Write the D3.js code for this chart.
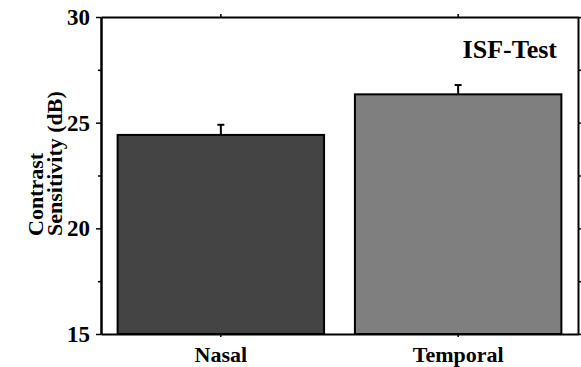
<!DOCTYPE html>
<html><head><meta charset="utf-8">
<script src="https://cdn.jsdelivr.net/npm/d3@7"></script>
<style>body{margin:0;background:#fff}svg{display:block}text{font-family:"Liberation Serif","Times New Roman",serif;font-weight:bold;fill:#000}</style>
</head><body>
<script>
const categories = ["Nasal", "Temporal"];
const means = [24.42, 26.34];
const errors = [0.48, 0.44];
const colors = ["#444444", "#7f7f7f"];
const majorTicks = [15, 20, 25, 30];
const minorTicks = [17.5, 22.5, 27.5];
const yTitle = ["Contrast", "Sensitivity (dB)"];
const panelLabel = "ISF-Test";

const W = 581, H = 367;
const m = {left: 101, right: 3, top: 17, bottom: 33};
const svg = d3.select("body").append("svg").attr("width", W).attr("height", H);

const x = d3.scaleBand().domain(categories).range([m.left, W - m.right]).paddingInner(0.13).paddingOuter(0.07);
const y = d3.scaleLinear().domain([15, 30]).range([H - m.bottom, m.top]);

// bars
svg.selectAll("rect.bar").data(categories).join("rect").attr("class", "bar")
  .attr("x", d => x(d)).attr("width", x.bandwidth())
  .attr("y", (d, i) => y(means[i])).attr("height", (d, i) => y(15) - y(means[i]))
  .attr("fill", (d, i) => colors[i]).attr("stroke", "#000").attr("stroke-width", 2);

// error bars
const eb = svg.selectAll("g.err").data(categories).join("g").attr("class", "err")
  .attr("stroke", "#000").attr("stroke-width", 2);
eb.append("line").attr("x1", d => x(d) + x.bandwidth() / 2).attr("x2", d => x(d) + x.bandwidth() / 2)
  .attr("y1", (d, i) => y(means[i])).attr("y2", (d, i) => y(means[i] + errors[i]));
eb.append("line").attr("x1", d => x(d) + x.bandwidth() / 2 - 3.5).attr("x2", d => x(d) + x.bandwidth() / 2 + 3.5)
  .attr("y1", (d, i) => y(means[i] + errors[i])).attr("y2", (d, i) => y(means[i] + errors[i]));

// axes
function styleAxis(g) {
  g.selectAll("path.domain").attr("stroke", "#000").attr("stroke-width", 2);
  g.selectAll(".tick line").attr("stroke", "#000").attr("stroke-width", 1.5);
}
function styleText(g, size) {
  g.selectAll("text").attr("font-size", size).style("font-family", '"Liberation Serif",serif')
    .style("font-weight", "bold").attr("fill", "#000");
}
const gLeft = svg.append("g").attr("transform", `translate(${m.left},0)`)
  .call(d3.axisLeft(y).tickValues(majorTicks).tickSize(5).tickPadding(6).tickSizeOuter(0));
gLeft.call(styleAxis);
styleText(gLeft, 23);
svg.append("g").attr("transform", `translate(${m.left},0)`)
  .call(d3.axisLeft(y).tickValues(minorTicks).tickSize(3).tickFormat("").tickSizeOuter(0)).call(styleAxis);

const gRight = svg.append("g").attr("transform", `translate(${W - m.right},0)`)
  .call(d3.axisRight(y).tickValues(majorTicks.concat(minorTicks)).tickSize(4).tickFormat("").tickSizeOuter(0));
gRight.call(styleAxis);

const gBottom = svg.append("g").attr("transform", `translate(0,${H - m.bottom})`)
  .call(d3.axisBottom(x).tickSize(3).tickPadding(9).tickSizeOuter(0));
gBottom.call(styleAxis);
styleText(gBottom, 22);

const gTop = svg.append("g").attr("transform", `translate(0,${m.top})`)
  .call(d3.axisTop(x).tickSize(3).tickFormat("").tickSizeOuter(0));
gTop.call(styleAxis);

// y title
const yt = svg.append("text").attr("transform", `translate(43,236) rotate(-90)`).attr("text-anchor", "start").attr("font-size", 22);
yt.selectAll("tspan").data(yTitle).join("tspan").attr("x", 0).attr("dy", (d, i) => i ? 19 : 0).text(d => d);

// panel label
svg.append("text").attr("x", 557).attr("y", 58).attr("text-anchor", "end").attr("font-size", 26).text(panelLabel);
</script>
</body></html>
